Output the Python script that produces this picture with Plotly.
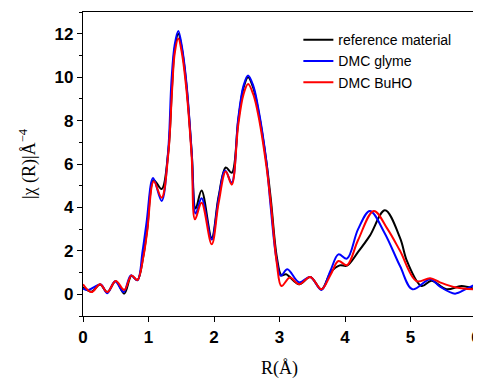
import plotly.graph_objects as go

# Reference material
r_ref = [0, 0.13, 0.26, 0.37, 0.50, 0.63, 0.74, 0.83, 0.92, 0.98, 1.08, 1.20, 1.30, 1.36, 1.40, 1.455,
         1.51, 1.58, 1.66, 1.72, 1.81, 1.965, 2.07, 2.18, 2.27, 2.37, 2.45, 2.52, 2.60, 2.68, 2.80, 2.87,
         2.96, 3.03, 3.10, 3.30, 3.47, 3.64, 3.78, 3.92, 4.03, 4.20, 4.38, 4.61, 4.84, 4.95, 5.17, 5.32,
         5.55, 5.78, 6.0]
v_ref = [0.32, 0.12, 0.45, 0.10, 0.60, 0.03, 0.85, 0.65, 1.75, 3.0, 5.25, 4.85, 6.5, 9.6, 11.3, 12.0,
         11.3, 9.6, 6.5, 3.95, 4.78, 2.6, 4.5, 5.84, 5.6, 8.0, 9.5, 10.0, 9.5, 8.4, 6.1, 4.3,
         1.7, 0.87, 0.92, 0.46, 0.80, 0.23, 1.0, 1.33, 1.32, 1.95, 2.7, 3.87, 2.6, 1.5, 0.38, 0.62,
         0.23, 0.38, 0.22]

# DMC glyme
r_gly = [0, 0.08, 0.27, 0.37, 0.49, 0.62, 0.73, 0.83, 0.91, 0.97, 1.07, 1.20, 1.30, 1.35, 1.40, 1.455,
         1.51, 1.58, 1.66, 1.72, 1.81, 1.965, 2.07, 2.17, 2.27, 2.37, 2.45, 2.52, 2.60, 2.68, 2.80, 2.86,
         2.95, 3.02, 3.12, 3.30, 3.47, 3.64, 3.78, 3.90, 4.03, 4.20, 4.38, 4.60, 4.84, 5.03, 5.30, 5.45,
         5.68, 5.85, 6.0]
v_gly = [0.26, 0.20, 0.45, 0.05, 0.60, 0.10, 0.87, 0.65, 2.0, 3.3, 5.35, 4.3, 6.6, 9.8, 11.5, 12.13,
         11.4, 9.7, 6.5, 3.72, 4.42, 2.52, 4.4, 5.7, 5.15, 8.1, 9.6, 10.08, 9.6, 8.5, 6.1, 4.2,
         1.7, 0.85, 1.15, 0.55, 0.80, 0.20, 1.1, 1.84, 1.64, 3.0, 3.84, 2.85, 1.3, 0.23, 0.69, 0.35,
         0.03, 0.25, 0.46]

# DMC BuHO
r_buho = [0, 0.13, 0.26, 0.37, 0.50, 0.63, 0.74, 0.83, 0.92, 0.98, 1.08, 1.20, 1.30, 1.36, 1.40, 1.455,
          1.51, 1.58, 1.66, 1.71, 1.81, 1.965, 2.07, 2.18, 2.27, 2.37, 2.45, 2.52, 2.60, 2.68, 2.80, 2.87,
          2.96, 3.03, 3.16, 3.30, 3.47, 3.64, 3.78, 3.90, 4.03, 4.20, 4.44, 4.65, 4.84, 5.09, 5.30, 5.45,
          5.70, 6.0]
v_buho = [0.46, 0.10, 0.46, 0.10, 0.61, 0.20, 0.87, 0.66, 1.7, 2.9, 5.2, 4.45, 6.4, 9.4, 11.1, 11.78,
          11.1, 9.4, 6.3, 3.45, 4.22, 2.3, 4.2, 5.65, 5.05, 7.8, 9.2, 9.68, 9.2, 8.2, 5.9, 4.1,
          1.4, 0.38, 0.77, 0.46, 0.80, 0.23, 0.9, 1.53, 1.34, 2.5, 3.84, 3.0, 2.0, 0.61, 0.74, 0.55,
          0.31, 0.22]

series = [
    ("reference material", r_ref, v_ref, "#000000"),
    ("DMC glyme", r_gly, v_gly, "#0000ff"),
    ("DMC BuHO", r_buho, v_buho, "#ff0000"),
]

fig = go.Figure()
for name, r, v, c in series:
    fig.add_trace(go.Scatter(x=r, y=v, mode="lines", name=name,
                             line=dict(color=c, width=2, shape="spline", smoothing=1.0)))

# The page body adds an 8px margin, so the figure is sized 8px smaller and margins compensate
tickfont = dict(family="Liberation Sans, Arial", size=17, color="black", weight="bold")
fig.update_layout(
    width=473, height=371,
    margin=dict(l=75, r=5, t=4, b=63, autoexpand=False),
    paper_bgcolor="white", plot_bgcolor="white",
    showlegend=True,
    legend=dict(x=0.548, y=0.96, xanchor="left", yanchor="top",
                font=dict(family="Liberation Sans, Arial", size=14, color="black"),
                bgcolor="rgba(0,0,0,0)", tracegroupgap=0),
    xaxis=dict(range=[0, 6], dtick=1, tick0=0, showgrid=False, zeroline=False, automargin=False,
               showline=True, linecolor="black", linewidth=1.3, mirror=True,
               ticks="outside", ticklen=5, tickwidth=1.3, tickcolor="black",
               tickfont=tickfont,
               title=dict(text="R(Å)", font=dict(family="Liberation Serif, Times New Roman", size=18, color="black"),
                          standoff=18)),
    yaxis=dict(range=[-1, 13], dtick=2, tick0=0, showgrid=False, zeroline=False, automargin=False,
               showline=True, linecolor="black", linewidth=1.3, mirror=True,
               ticks="outside", ticklen=5, tickwidth=1.3, tickcolor="black",
               minor=dict(ticks="outside", ticklen=3, dtick=1, tickwidth=1.3, tickcolor="black"),
               tickfont=tickfont,
               title=dict(text="|χ (R)|Å<sup>−4</sup>", font=dict(family="Liberation Serif, Times New Roman", size=18, color="black"),
                          standoff=14)),
)

fig.write_html("out.html")
